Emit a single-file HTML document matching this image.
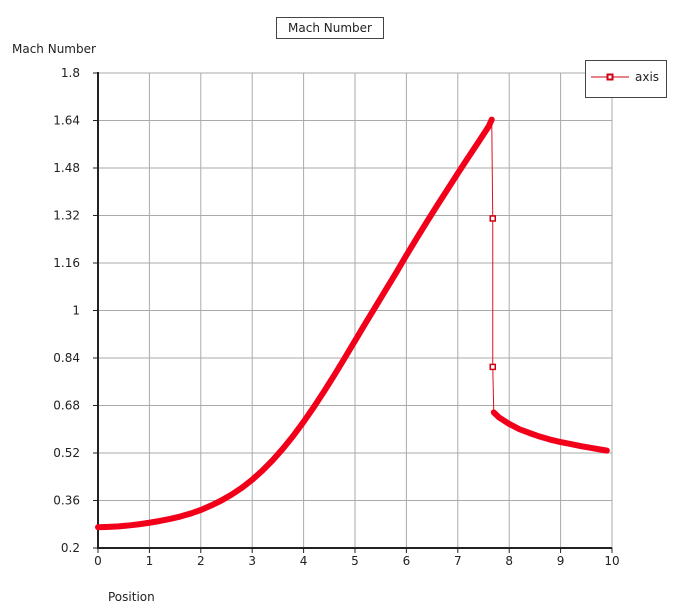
<!DOCTYPE html>
<html><head><meta charset="utf-8"><style>
html,body{margin:0;padding:0;background:#fff;}
svg{display:block;font-family:"DejaVu Sans","Liberation Sans",sans-serif;}
</style></head><body>
<svg id="chart" width="691" height="613">
<g id="grid"></g>
<g id="axes"></g>
<g id="series"></g>
<g>
<rect x="276.5" y="17.5" width="107" height="21" fill="#fff" stroke="#444"/>
<text x="330" y="32" font-size="12" text-anchor="middle" fill="#222">Mach Number</text>
</g>
<text x="12" y="53" font-size="12" fill="#222">Mach Number</text>
<text x="108" y="601" font-size="12" fill="#222">Position</text>
<g>
<rect x="585.5" y="60.5" width="81" height="37" fill="#fff" stroke="#444"/>
<line x1="591" y1="77" x2="629" y2="77" stroke="#d00010" stroke-width="1"/>
<rect x="607.5" y="74.5" width="5" height="5" fill="#fff" stroke="#d00010" stroke-width="2"/>
<text x="635" y="81" font-size="12" fill="#222">axis</text>
</g>
</svg>
<script>
const xTicks=[0,1,2,3,4,5,6,7,8,9,10];
const yTicks=[0.2,0.36,0.52,0.68,0.84,1,1.16,1.32,1.48,1.64,1.8];
const yTickLabels=["0.2","0.36","0.52","0.68","0.84","1","1.16","1.32","1.48","1.64","1.8"];
const posA=[0,0.2,0.4,0.6,0.8,1.0,1.2,1.4,1.6,1.8,2.0,2.2,2.4,2.6,2.8,3.0,3.2,3.4,3.6,3.8,4.0,4.2,4.4,4.6,4.8,5.0,5.2,5.4,5.6,5.8,6.0,6.2,6.4,6.6,6.8,7.0,7.2,7.4,7.6,7.66];
const machA=[0.270,0.271,0.273,0.276,0.280,0.285,0.291,0.298,0.306,0.316,0.328,0.343,0.360,0.380,0.403,0.430,0.461,0.496,0.535,0.578,0.625,0.675,0.728,0.783,0.840,0.898,0.956,1.013,1.070,1.127,1.186,1.243,1.299,1.354,1.408,1.462,1.515,1.567,1.620,1.643];
const posShock=[7.66,7.68,7.68,7.7];
const machShock=[1.643,1.31,0.81,0.657];
const posB=[7.7,7.8,8.0,8.2,8.4,8.6,8.8,9.0,9.2,9.4,9.6,9.8,9.9];
const machB=[0.657,0.640,0.618,0.600,0.587,0.575,0.565,0.557,0.550,0.543,0.537,0.531,0.528];

const NS="http://www.w3.org/2000/svg";
const X0=98,X1=612,Y0=548,Y1=73;
function sx(v){return X0+(v-0)/(10-0)*(X1-X0);}
function sy(v){return Y0-(v-0.2)/(1.8-0.2)*(Y0-Y1);}
function mk(tag,attrs,parent){const e=document.createElementNS(NS,tag);for(const k in attrs)e.setAttribute(k,attrs[k]);parent.appendChild(e);return e;}
const grid=document.getElementById('grid'),axes=document.getElementById('axes'),series=document.getElementById('series');
xTicks.forEach(t=>{
  const l=mk('line',{x1:sx(t),x2:sx(t),y1:Y1,y2:Y0,stroke:'#aaa','stroke-width':1},grid);
  
  
  const tk=mk('line',{x1:sx(t),x2:sx(t),y1:Y0,y2:Y0+5,stroke:'#222','stroke-width':1},axes);
  
  
  const tx=mk('text',{x:sx(t),y:Y0+17,'font-size':12,'text-anchor':'middle',fill:'#222'},axes);
  tx.textContent=t;
  
  
});
yTicks.forEach((t,i)=>{
  const l=mk('line',{x1:X0,x2:X1,y1:sy(t),y2:sy(t),stroke:'#aaa','stroke-width':1},grid);
  
  
  const tk=mk('line',{x1:X0-5,x2:X0,y1:sy(t),y2:sy(t),stroke:'#222','stroke-width':1},axes);
  
  
  const tx=mk('text',{x:X0-18,y:sy(t)+4,'font-size':12,'text-anchor':'end',fill:'#222'},axes);
  tx.textContent=yTickLabels[i];
  
  
});
const ya=mk('line',{x1:X0,x2:X0,y1:Y1-1,y2:Y0+1,stroke:'#222','stroke-width':2},axes);


const xa=mk('line',{x1:X0-1,x2:X1,y1:Y0,y2:Y0,stroke:'#222','stroke-width':2},axes);


function pts(xs,ys){return xs.map((x,i)=>sx(x)+','+sy(ys[i])).join(' ');}
const sh=mk('polyline',{points:pts(posShock,machShock),fill:'none',stroke:'#e0101c','stroke-width':1},series);


const la=mk('polyline',{points:pts(posA,machA),fill:'none',stroke:'#f2001a','stroke-width':6,'stroke-linejoin':'round','stroke-linecap':'round'},series);


const lb=mk('polyline',{points:pts(posB,machB),fill:'none',stroke:'#f2001a','stroke-width':6,'stroke-linejoin':'round','stroke-linecap':'round'},series);


for(let i=1;i<posShock.length-1;i++){
  const m=mk('rect',{x:sx(posShock[i])-2.5,y:sy(machShock[i])-2.5,width:5,height:5,fill:'#fff',stroke:'#d00010','stroke-width':1.5},series);
  
  
}
</script>
</body></html>
